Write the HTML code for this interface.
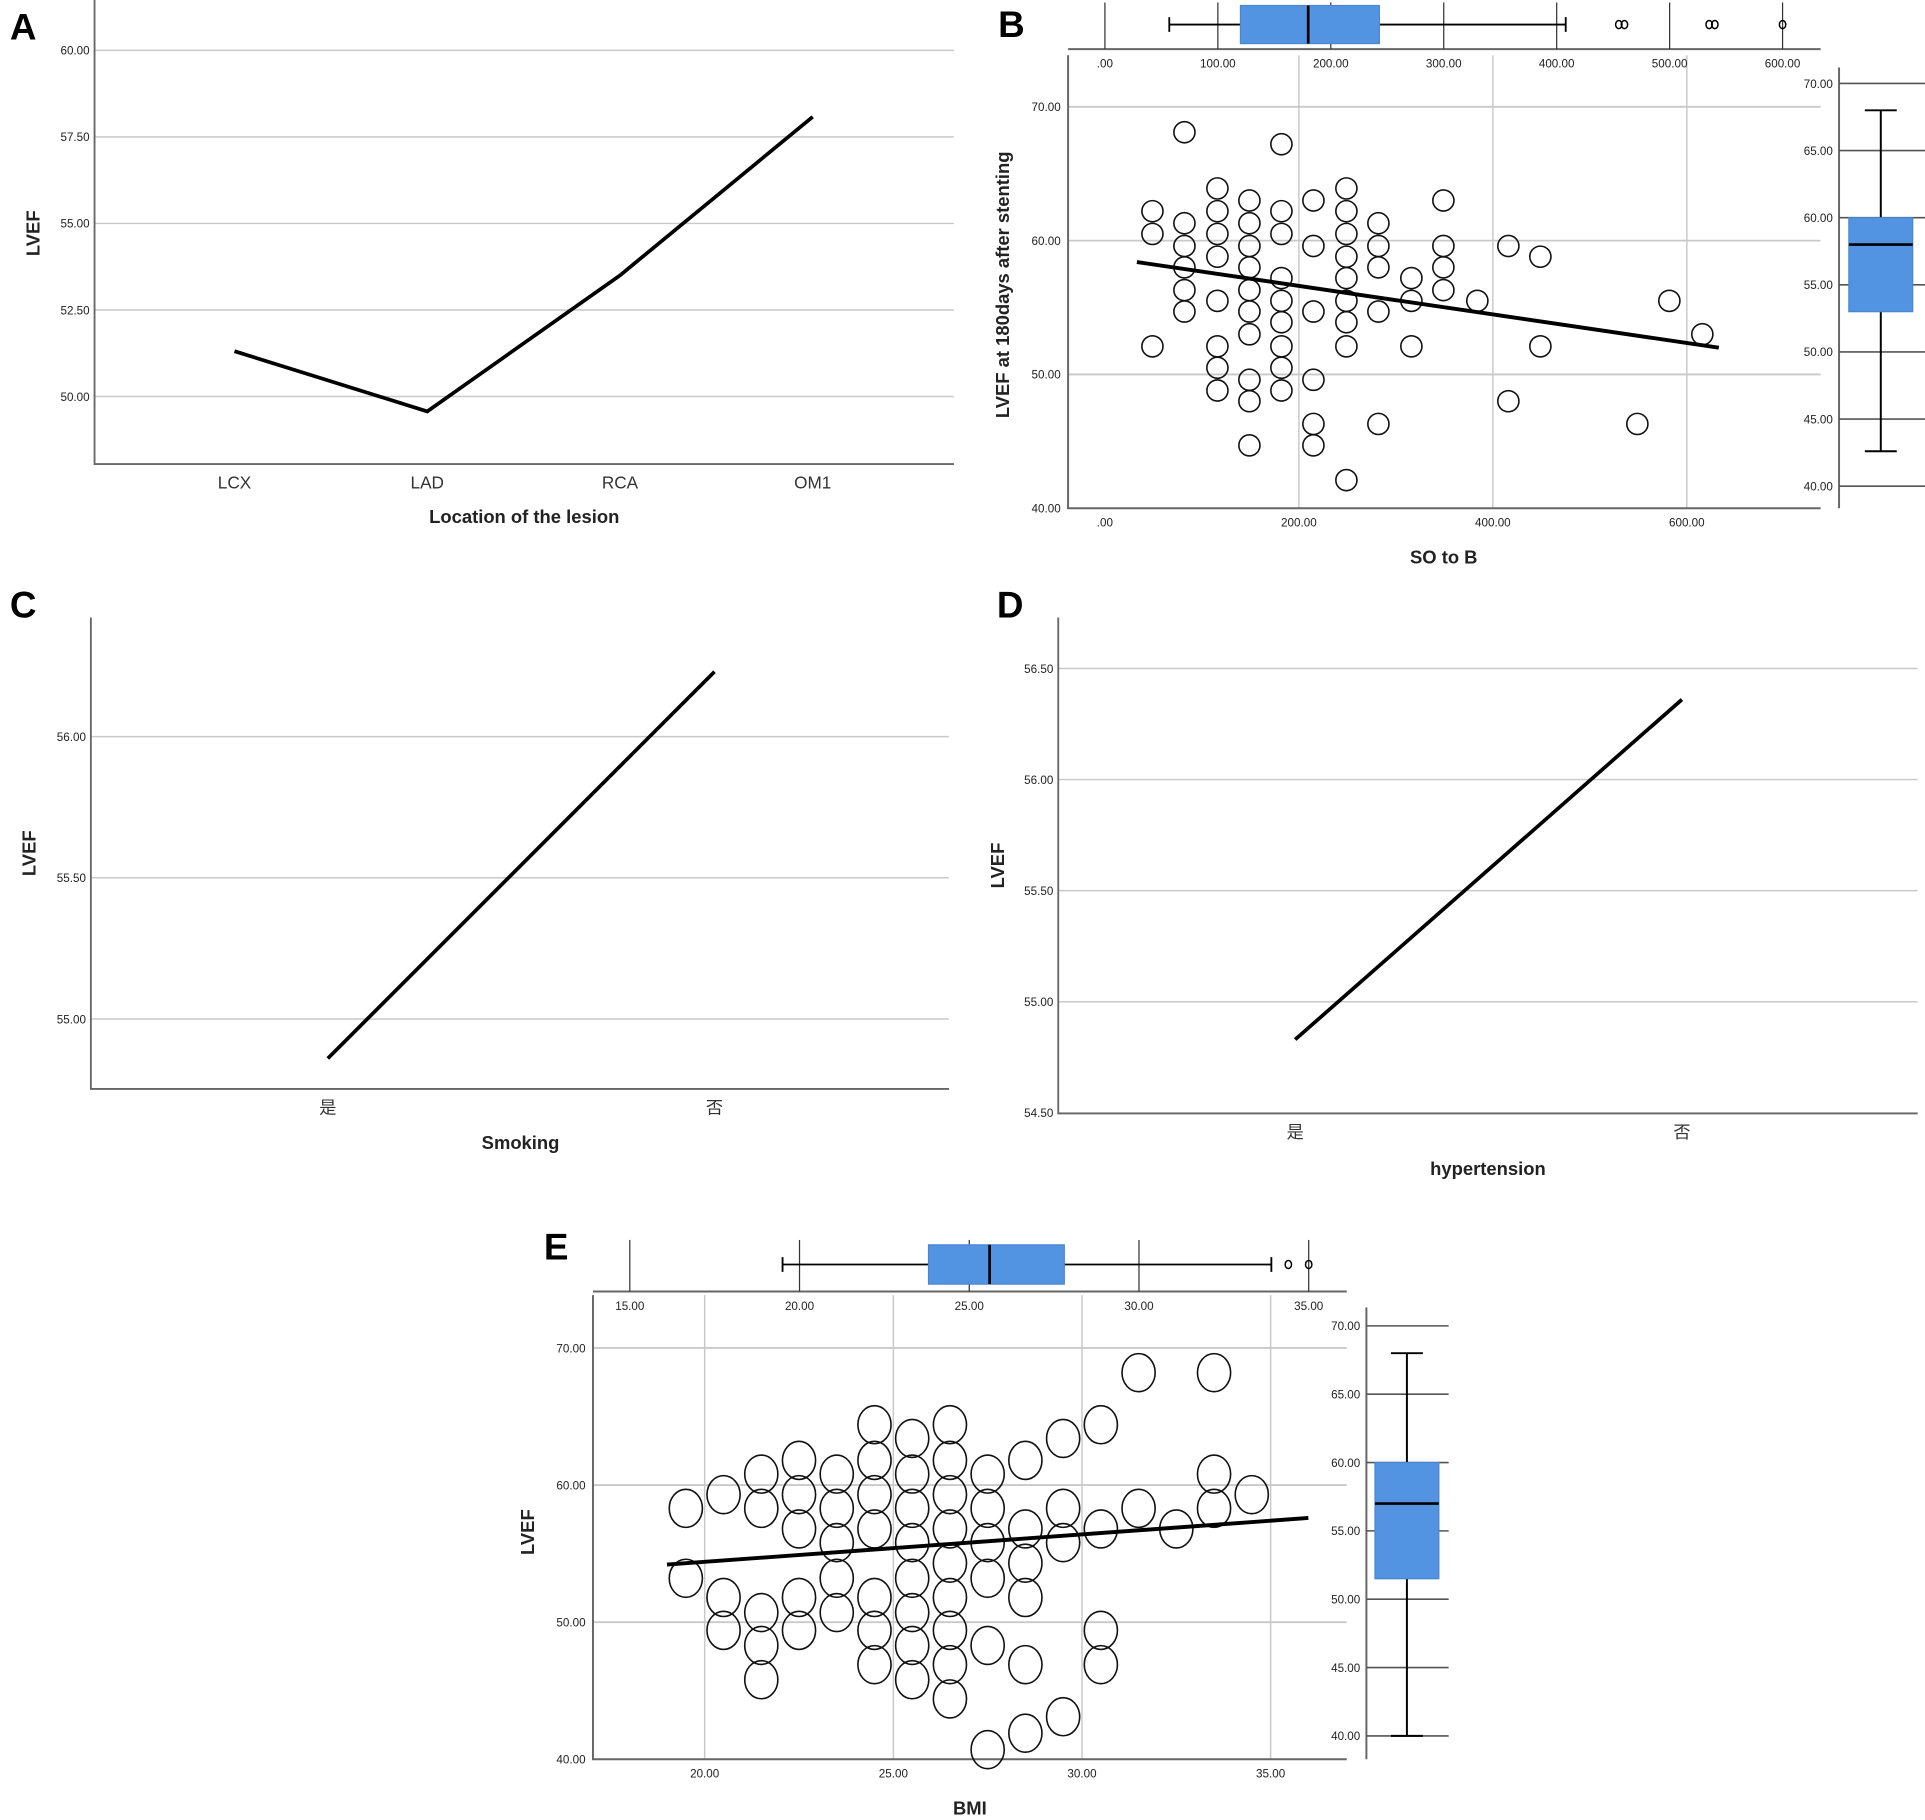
<!DOCTYPE html>
<html><head><meta charset="utf-8"><style>
html,body{margin:0;padding:0;background:#fff;}
svg{display:block;font-family:"Liberation Sans","Noto Sans CJK SC",sans-serif;}
</style></head><body>
<svg id="fig" width="1925" height="1820" viewBox="0 0 1568 1482.5" xmlns="http://www.w3.org/2000/svg">
<rect x="0" y="0" width="1568" height="1483" fill="#fff"/>
</svg>
<script>
// ---------- DATA ----------
// Panel A
const aCats = ["LCX","LAD","RCA","OM1"];
const aVals = [51.31, 49.57, 53.5, 58.08];
const aTicks = [50, 52.5, 55, 57.5, 60];
// Panel B
const bTicksY = [40, 50, 60, 70];
const bTicksX = [0, 200, 400, 600];
const bTopTicks = [0, 100, 200, 300, 400, 500, 600];
const bRightTicks = [40, 45, 50, 55, 60, 65, 70];
const bX = [49,49,49, 82,82,82,82,82,82, 116,116,116,116,116,116,116,116,
  149,149,149,149,149,149,149,149,149,149, 182,182,182,182,182,182,182,182,182,
  215,215,215,215,215,215, 249,249,249,249,249,249,249,249,249,
  282,282,282,282,282, 316,316,316, 349,349,349,349, 384, 416,416, 449,449, 549, 582, 616];
const bY = [62.2,60.5,52.1, 68.1,61.3,59.6,58,56.3,54.7, 63.9,62.2,60.5,58.8,55.5,52.1,50.5,48.8,
  63,61.3,59.6,58,56.3,54.7,53,49.6,48,44.7, 67.2,62.2,60.5,57.2,55.5,53.9,52.1,50.5,48.8,
  63,59.6,54.7,49.6,46.3,44.7, 63.9,62.2,60.5,58.8,57.2,55.5,53.9,52.1,42.1,
  61.3,59.6,58,54.7,46.3, 57.2,55.5,52.1, 63,59.6,58,56.3, 55.5, 59.6,48, 58.8,52.1, 46.3, 55.5, 53];
const bFitX = [33, 633];
const bFitY = [58.4, 52.0];
const bBoxH = [57, 120, 180, 243, 408]; // min q1 med q3 max
const bOutH = [455, 460, 535, 540, 600];
const bBoxV = [42.6, 53, 58, 60, 68];
// Panel C
const cCats = ["是","否"];
const cVals = [54.86, 56.23];
const cTicks = [55, 55.5, 56];
// Panel D
const dCats = ["是","否"];
const dVals = [54.83, 56.36];
const dTicks = [54.5, 55, 55.5, 56, 56.5];
// Panel E
const eTicksY = [40, 50, 60, 70];
const eTicksX = [20, 25, 30, 35];
const eTopTicks = [15, 20, 25, 30, 35];
const eRightTicks = [40, 45, 50, 55, 60, 65, 70];
const eX = [19.5,19.5, 20.5,20.5,20.5, 21.5,21.5,21.5,21.5,21.5, 22.5,22.5,22.5,22.5,22.5,
  23.5,23.5,23.5,23.5,23.5, 24.5,24.5,24.5,24.5,24.5,24.5,24.5, 25.5,25.5,25.5,25.5,25.5,25.5,25.5,25.5,
  26.5,26.5,26.5,26.5,26.5,26.5,26.5,26.5,26.5, 27.5,27.5,27.5,27.5,27.5,27.5,
  28.5,28.5,28.5,28.5,28.5,28.5, 29.5,29.5,29.5,29.5, 30.5,30.5,30.5,30.5, 31.5,31.5, 32.5, 33.5,33.5,33.5, 34.5];
const eY = [58.3,53.2, 59.3,51.8,49.4, 60.8,58.3,50.7,48.3,45.8, 61.8,59.3,56.8,51.8,49.4,
  60.8,58.3,55.8,53.2,50.7, 64.4,61.8,59.3,56.8,51.8,49.4,46.9, 63.4,60.8,58.3,55.8,53.2,50.7,48.3,45.8,
  64.4,61.8,59.3,56.8,54.3,51.8,49.4,46.9,44.4, 60.8,58.3,55.8,53.2,48.3,40.7,
  61.8,56.8,54.3,51.8,46.9,41.9, 63.4,58.3,55.8,43.1, 64.4,56.8,49.4,46.9, 68.2,58.3, 56.8, 68.2,60.8,58.3, 59.3];
const eFitX = [19, 36];
const eFitY = [54.2, 57.6];
const eBoxH = [19.5, 23.8, 25.6, 27.8, 33.9];
const eOutH = [34.4, 35];
const eBoxV = [40, 51.5, 57, 60, 68];

// ---------- HELPERS ----------
const NS = "http://www.w3.org/2000/svg";
const svg = document.getElementById("fig");
function mk(tag, attrs, parent, txt){
  const e = document.createElementNS(NS, tag);
  for (const k in attrs) e.setAttribute(k, attrs[k]);
  if (txt !== undefined) e.textContent = txt;
  (parent || svg).appendChild(e);
  return e;
}
function lin(d0,d1,p0,p1){ return v => p0 + (v-d0)*(p1-p0)/(d1-d0); }
const GRID = "#c9c9c9", AX = "#666", TXT = "#222";
function fmt(v){ const s = v.toFixed(2); return s.startsWith("0.") ? s.slice(1) : s; }
function label(x,y,t,opt){
  opt = opt||{};
  const e = mk("text",{x:x,y:y,"font-size":opt.size||10.5,"text-anchor":opt.anchor||"middle",fill:opt.fill||TXT,"font-weight":opt.bold?"bold":"normal",transform:opt.rot?`rotate(-90 ${x} ${y})`:""},opt.g,t);
  return e;
}
function group(name){
  const g = mk("g",{});
  
  
  return g;
}

// ---------- LINE PANELS ----------
function linePanel(name, letter, lx, ly, x0, x1, yTop, yBot, ticks, ty0, ty1, py0, py1, cats, catXs, vals, xTitle, xTitleY, yTitleX, catY, tickRight){
  const g = group(name);
  const L = mk("text",{x:lx,y:ly,"font-size":30,"font-weight":"bold",fill:"#000"},g,letter);
  
  
  const ys = lin(ty0, ty1, py0, py1);
  ticks.forEach(t=>{
    const gl = mk("line",{x1:x0,x2:x1,y1:ys(t),y2:ys(t),stroke:GRID,"stroke-width":1.2},g);
    
    
    const tl = label(tickRight, ys(t)+3.5, t.toFixed(2), {anchor:"end", size:9.5, g:g});
    
    
  });
  const ax = mk("path",{d:`M${x0} ${yTop} V${yBot} H${x1}`,stroke:AX,"stroke-width":1.5,fill:"none"},g);
  
  
  cats.forEach((c,i)=>{
    const cl = label(catXs[i], catY, c, {size:14, fill:"#333", g:g});
    
    
  });
  const pts = vals.map((v,i)=>catXs[i]+","+ys(v)).join(" ");
  const pl = mk("polyline",{points:pts,fill:"none",stroke:"#000","stroke-width":3},g);
  
  
  const xt = label((x0+x1)/2 - 0.5*(x1-x0)*0 + 0, xTitleY, xTitle, {size:15, bold:true, g:g});
  
  
  return {g, xt, ys};
}
const A = linePanel("panel-a","A",8,32,77,777,0,378,aTicks,50,60,323,41,aCats,[191,348,505,662],aVals,"Location of the lesion",426,0,398,73);
A.xt.setAttribute("x",427);
const ayt = label(32,190,"LVEF",{size:15,bold:true,rot:true,g:A.g});



const C = linePanel("panel-c","C",8,503,74,773,503,887,cTicks,55,56,830,600,cCats,[267,582],cVals,"Smoking",936,0,907,70);
C.xt.setAttribute("x",424);
const cyt = label(29,695,"LVEF",{size:15,bold:true,rot:true,g:C.g});



const D = linePanel("panel-d","D",812,503,862,1562,503,907,dTicks,55,56,816,635,dCats,[1055,1370],dVals,"hypertension",957,0,927,858);
D.xt.setAttribute("x",1212);
const dyt = label(818,705,"LVEF",{size:15,bold:true,rot:true,g:D.g});



// ---------- SCATTER PANELS ----------
function scatterPanel(o){
  const g = group(o.name);
  const L = mk("text",{x:o.lx,y:o.ly,"font-size":30,"font-weight":"bold",fill:"#000"},g,o.letter);
  
  
  const xs = lin(o.xd[0],o.xd[1],o.xp[0],o.xp[1]);
  const ys = lin(o.yd[0],o.yd[1],o.yp[0],o.yp[1]);
  // grid
  o.ticksY.forEach(t=>{
    if (t!==o.ticksY[0]){
      const gl = mk("line",{x1:o.x0,x2:o.x1,y1:ys(t),y2:ys(t),stroke:GRID,"stroke-width":1.5},g);
      
      
    }
    const tl = label(o.x0-6, ys(t)+3.5, t.toFixed(2), {anchor:"end", size:9.5, g:g});
    
    
  });
  o.ticksX.forEach(t=>{
    if (o.vgrid.includes(t)){
      const gl = mk("line",{x1:xs(t),x2:xs(t),y1:o.yTop,y2:o.yBot,stroke:GRID,"stroke-width":1.2},g);
      
      
    }
    const tl = label(xs(t), o.yBot+15, fmt(t), {size:9.5, g:g});
    
    
  });
  const ax = mk("path",{d:`M${o.x0} ${o.yTop} V${o.yBot} H${o.x1}`,stroke:AX,"stroke-width":1.6,fill:"none"},g);
  
  
  // points
  o.px.forEach((v,i)=>{
    const c = mk("ellipse",{cx:xs(v),cy:ys(o.py[i]),rx:o.rx,ry:o.ry,fill:"none",stroke:"#111","stroke-width":1.3},g);
    
    
  });
  const fit = mk("line",{x1:xs(o.fx[0]),y1:ys(o.fy[0]),x2:xs(o.fx[1]),y2:ys(o.fy[1]),stroke:"#000","stroke-width":3.2},g);
  
  
  // top boxplot
  const hs = lin(o.hd[0],o.hd[1],o.hp[0],o.hp[1]);
  const tax = mk("line",{x1:o.x0,x2:o.x1,y1:o.hAxisY,y2:o.hAxisY,stroke:AX,"stroke-width":1.6},g);
  
  
  o.topTicks.forEach(t=>{
    const tk = mk("line",{x1:hs(t),x2:hs(t),y1:o.hTop,y2:o.hAxisY,stroke:"#333","stroke-width":1},g);
    
    
    const tl = label(hs(t), o.hAxisY+15, fmt(t), {size:9.5, g:g});
    
    
  });
  const b = o.boxH, cy = o.hBoxC, hh = o.hBoxH;
  const wl = mk("path",{d:`M${hs(b[0])} ${cy-6} V${cy+6} M${hs(b[0])} ${cy} H${hs(b[4])} M${hs(b[4])} ${cy-6} V${cy+6}`,stroke:"#000","stroke-width":1.5,fill:"none"},g);
  
  
  const br = mk("rect",{x:hs(b[1]),y:cy-hh/2,width:hs(b[3])-hs(b[1]),height:hh,fill:"#5294e2",stroke:"#4a86cf","stroke-width":1},g);
  
  
  const md = mk("line",{x1:hs(b[2]),x2:hs(b[2]),y1:cy-hh/2,y2:cy+hh/2,stroke:"#000","stroke-width":2.2},g);
  
  
  o.outH.forEach(v=>{
    const oc = mk("ellipse",{cx:hs(v),cy:cy,rx:2.6,ry:3.3,fill:"none",stroke:"#000","stroke-width":1.2},g);
    
    
  });
  // right boxplot
  const vs = lin(o.vd[0],o.vd[1],o.vp[0],o.vp[1]);
  const rax = mk("line",{x1:o.vAxisX,x2:o.vAxisX,y1:o.vTop,y2:o.vBot,stroke:AX,"stroke-width":1.6},g);
  
  
  o.rightTicks.forEach(t=>{
    const tk = mk("line",{x1:o.vAxisX,x2:o.vRight,y1:vs(t),y2:vs(t),stroke:"#555","stroke-width":1.3},g);
    
    
    const tl = label(o.vAxisX-5, vs(t)+3.5, t.toFixed(2), {anchor:"end", size:9.5, g:g});
    
    
  });
  const v = o.boxV, cx = o.vBoxC, ww = o.vBoxW;
  const vw = mk("path",{d:`M${cx-13} ${vs(v[0])} H${cx+13} M${cx} ${vs(v[0])} V${vs(v[4])} M${cx-13} ${vs(v[4])} H${cx+13}`,stroke:"#000","stroke-width":1.6,fill:"none"},g);
  
  
  const vr = mk("rect",{x:cx-ww/2,y:vs(v[3]),width:ww,height:vs(v[1])-vs(v[3]),fill:"#5294e2",stroke:"#4a86cf","stroke-width":1},g);
  
  
  const vm = mk("line",{x1:cx-ww/2,x2:cx+ww/2,y1:vs(v[2]),y2:vs(v[2]),stroke:"#000","stroke-width":2.2},g);
  
  
  // titles
  const xt = label(o.xtX, o.xtY, o.xTitle, {size:15, bold:true, g:g});
  
  
  const yt = label(o.ytX, o.ytY, o.yTitle, {size:15, bold:true, rot:true, g:g});
  
  
}

scatterPanel({name:"panel-b",letter:"B",lx:813,ly:30,
  x0:870,x1:1483,yTop:45,yBot:414,
  xd:[0,600],xp:[900,1374],yd:[40,70],yp:[414,87],
  ticksY:bTicksY,ticksX:bTicksX,vgrid:[200,400,600],
  px:bX,py:bY,rx:8.6,ry:8.6,fx:bFitX,fy:bFitY,
  hd:[0,600],hp:[900,1452],hAxisY:40,hTop:2,topTicks:bTopTicks,boxH:bBoxH,outH:bOutH,hBoxC:20,hBoxH:31,
  vd:[40,70],vp:[396,68],vAxisX:1498,vTop:55,vBot:414,vRight:1568,rightTicks:bRightTicks,boxV:bBoxV,vBoxC:1532,vBoxW:52,
  xTitle:"SO  to  B",xtX:1176,xtY:459,yTitle:"LVEF at 180days after stenting",ytX:822,ytY:232});

scatterPanel({name:"panel-e",letter:"E",lx:443,ly:1026,
  x0:483,x1:1097,yTop:1055,yBot:1433,
  xd:[20,35],xp:[574,1035],yd:[40,70],yp:[1433,1098],
  ticksY:eTicksY,ticksX:eTicksX,vgrid:[20,25,30,35],
  px:eX,py:eY,rx:13.5,ry:15.5,fx:eFitX,fy:eFitY,
  hd:[15,35],hp:[513,1066],hAxisY:1052,hTop:1010,topTicks:eTopTicks,boxH:eBoxH,outH:eOutH,hBoxC:1030,hBoxH:32,
  vd:[40,70],vp:[1414,1080],vAxisX:1113,vTop:1065,vBot:1433,vRight:1180,rightTicks:eRightTicks,boxV:eBoxV,vBoxC:1146,vBoxW:52,
  xTitle:"BMI",xtX:790,xtY:1478,yTitle:"LVEF",ytX:435,ytY:1248});
</script>
</body></html>
